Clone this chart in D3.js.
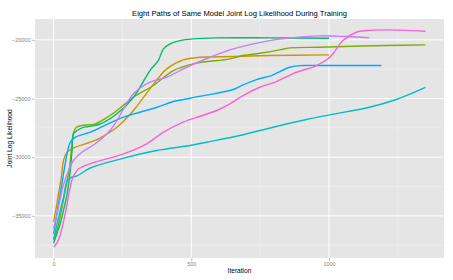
<!DOCTYPE html>
<html>
<head>
<meta charset="utf-8">
<script src="https://cdn.jsdelivr.net/npm/d3@7"></script>
<style>
  html, body { margin: 0; padding: 0; background: #ffffff; }
  svg text { font-family: "Liberation Sans", Arial, Helvetica, sans-serif; }
</style>
</head>
<body>
<svg id="chart" width="453" height="280"></svg>
<script>
// ---- data (iteration, joint log likelihood) ----
const seriesNames = ["path2", "path3", "path4", "path5", "path6", "path7", "path8"];
const seriesColors = ["#CD9600", "#7CAE00", "#00BE67", "#00BFC4", "#00A9FF", "#C77CFF", "#FF61CC"];

const path2 = [[0,-35537],[11,-34114],[20,-32837],[29,-31559],[36,-30281],[49,-29574],[79,-29148],[115,-28859],[163,-28433],[199,-27940],[230,-27445],[290,-26022],[350,-24174],[411,-22470],[471,-21704],[532,-21482],[652,-21423],[785,-21337],[1000,-21278]];
const path3 = [[0,-37096],[17,-35818],[32,-34114],[46,-32410],[59,-30707],[66,-29003],[73,-27896],[82,-27470],[103,-27300],[151,-27155],[205,-26448],[230,-26022],[290,-24889],[362,-23893],[435,-22615],[507,-22044],[640,-21618],[688,-21337],[749,-21141],[821,-20852],[858,-20681],[966,-20630],[1086,-20545],[1208,-20486],[1350,-20426]];
const path4 = [[0,-37330],[12,-36525],[24,-35673],[36,-34540],[49,-33118],[58,-31704],[67,-29430],[72,-28007],[85,-27726],[103,-27496],[169,-27172],[230,-26303],[290,-24889],[350,-22615],[380,-21763],[399,-20767],[423,-20341],[459,-20060],[507,-19915],[592,-19830],[785,-19830],[1000,-19864]];
const path5 = [[0,-36951],[17,-35247],[35,-33544],[50,-31985],[64,-31729],[85,-31601],[133,-30920],[254,-30085],[375,-29429],[495,-29004],[556,-28723],[676,-28152],[797,-27445],[918,-26789],[1003,-26389],[1147,-25741],[1244,-25085],[1350,-24050]];
const path6 = [[0,-36525],[11,-34966],[23,-33262],[35,-31559],[49,-29711],[61,-28722],[79,-28297],[115,-28007],[133,-27871],[254,-26593],[375,-25741],[435,-25256],[495,-24975],[580,-24600],[652,-24233],[688,-23833],[737,-23382],[791,-23041],[858,-22334],[906,-22189],[1003,-22189],[1190,-22189]];
const path7 = [[0,-36074],[17,-34370],[32,-32666],[47,-31601],[72,-30281],[103,-29574],[151,-28859],[205,-27726],[230,-26874],[290,-24600],[350,-23612],[411,-23186],[483,-22334],[568,-21482],[652,-20767],[785,-20060],[846,-19864],[966,-19659],[1063,-19719],[1147,-19830]];
const path8 = [[0,-37666],[17,-37096],[41,-34966],[59,-32692],[68,-31840],[79,-31346],[91,-30988],[133,-30550],[254,-29711],[338,-28859],[399,-27871],[471,-27019],[532,-26508],[592,-26022],[640,-25452],[688,-24745],[749,-24038],[809,-23552],[870,-22870],[954,-22189],[1003,-21482],[1051,-20060],[1099,-19353],[1136,-19208],[1208,-19148],[1350,-19267]];
const seriesValues = [path2, path3, path4, path5, path6, path7, path8];

const xTicks = [0, 500, 1000];
const xMinor = [250, 750, 1250];
const yTicks = [-35000, -30000, -25000, -20000];
const yMinor = [-37500, -32500, -27500, -22500];

const titleText = "Eight Paths of Same Model Joint Log Likelihood During Training";
const xLabel = "Iteration";
const yLabel = "Joint Log Likelihood";

// ---- layout ----
const panel = { left: 35, right: 444, top: 19, bottom: 258 };
const svg = d3.select("#chart");

const all = seriesValues.flat();
const xExt = d3.extent(all, d => d[0]);
const yExt = d3.extent(all, d => d[1]);
const xPad = (xExt[1] - xExt[0]) * 0.05;
const yPad = (yExt[1] - yExt[0]) * 0.05;

const x = d3.scaleLinear().domain([xExt[0] - xPad, xExt[1] + xPad]).range([panel.left, panel.right]);
const y = d3.scaleLinear().domain([yExt[0] - yPad, yExt[1] + yPad]).range([panel.bottom, panel.top]);

// panel background
svg.append("rect")
  .attr("x", panel.left).attr("y", panel.top)
  .attr("width", panel.right - panel.left).attr("height", panel.bottom - panel.top)
  .attr("fill", "#E5E5E5");

const grid = svg.append("g");
// minor gridlines
grid.selectAll(".xm").data(xMinor).enter().append("line")
  .attr("x1", d => x(d)).attr("x2", d => x(d))
  .attr("y1", panel.top).attr("y2", panel.bottom)
  .attr("stroke", "#F2F2F2").attr("stroke-width", 0.5);
grid.selectAll(".ym").data(yMinor).enter().append("line")
  .attr("y1", d => y(d)).attr("y2", d => y(d))
  .attr("x1", panel.left).attr("x2", panel.right)
  .attr("stroke", "#F2F2F2").attr("stroke-width", 0.5);
// major gridlines
grid.selectAll(".xM").data(xTicks).enter().append("line")
  .attr("x1", d => x(d)).attr("x2", d => x(d))
  .attr("y1", panel.top).attr("y2", panel.bottom)
  .attr("stroke", "#FFFFFF").attr("stroke-width", 1);
grid.selectAll(".yM").data(yTicks).enter().append("line")
  .attr("y1", d => y(d)).attr("y2", d => y(d))
  .attr("x1", panel.left).attr("x2", panel.right)
  .attr("stroke", "#FFFFFF").attr("stroke-width", 1);

// lines
const line = d3.line().x(d => x(d[0])).y(d => y(d[1])).curve(d3.curveCatmullRom.alpha(0.5));
svg.append("g").selectAll("path").data(seriesValues).enter().append("path")
  .attr("d", line)
  .attr("fill", "none")
  .attr("stroke", (d, i) => seriesColors[i])
  .attr("stroke-width", 1.4)
  .attr("stroke-linejoin", "round");

// axes
const fmt = d3.format("d");
const xAxis = d3.axisBottom(x).tickValues(xTicks).tickFormat(fmt).tickSize(3).tickPadding(1.5);
const yAxis = d3.axisLeft(y).tickValues(yTicks).tickFormat(fmt).tickSize(3).tickPadding(1.5);

const gx = svg.append("g").attr("transform", `translate(0,${panel.bottom})`).call(xAxis);
const gy = svg.append("g").attr("transform", `translate(${panel.left},0)`).call(yAxis);
[gx, gy].forEach(g => {
  g.select(".domain").remove();
  g.selectAll(".tick line").attr("stroke", "#7F7F7F").attr("stroke-width", 0.5);
  g.selectAll(".tick text").attr("fill", "#7F7F7F").attr("font-size", "5.5px");
});

// title and axis labels
svg.append("text")
  .attr("x", (panel.left + panel.right) / 2).attr("y", 15.5)
  .attr("text-anchor", "middle").attr("font-size", "7.6px").attr("fill", "#000")
  .text(titleText);
svg.append("text")
  .attr("x", (panel.left + panel.right) / 2).attr("y", 273)
  .attr("text-anchor", "middle").attr("font-size", "6.6px").attr("fill", "#000")
  .text(xLabel);
svg.append("text")
  .attr("transform", `translate(11.5,${(panel.top + panel.bottom) / 2}) rotate(-90)`)
  .attr("text-anchor", "middle").attr("font-size", "6.6px").attr("fill", "#000")
  .text(yLabel);
</script>
</body>
</html>
